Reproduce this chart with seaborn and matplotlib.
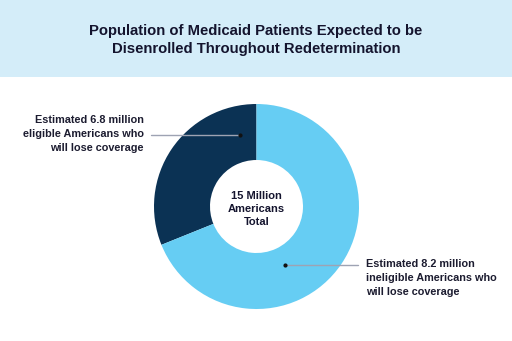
import matplotlib
matplotlib.use("Agg")
import matplotlib.pyplot as plt
import seaborn as sns
from matplotlib.patches import Rectangle

# Data
groups = ["Eligible Americans", "Ineligible Americans"]
millions = [6.8, 8.2]                 # labeled values (millions)
wedge_share = [31.1, 68.9]            # wedge sizes as drawn in the picture (%)
colors = ["#0b3254", "#66cdf3"]
title = "Population of Medicaid Patients Expected to be\nDisenrolled Throughout Redetermination"
center_label = "15 Million\nAmericans\nTotal"
left_label = f"Estimated {millions[0]} million\neligible Americans who\nwill lose coverage"
right_label = f"Estimated {millions[1]} million\nineligible Americans who\nwill lose coverage"

sns.set_theme(style="white")
plt.rcParams['font.family'] = ['Liberation Sans', 'DejaVu Sans']

W, H = 512, 341
fig = plt.figure(figsize=(W / 100, H / 100), dpi=100)
fig.patch.set_facecolor("white")
ax = fig.add_axes([0, 0, 1, 1])

cx, cy, R = 256.5, 206.5, 102.5
# y axis is inverted below, so data-clockwise from -90 is visually counter-clockwise from top
wedges, _ = ax.pie(wedge_share, colors=colors, startangle=-90, counterclock=False,
                   radius=R, center=(cx, cy), frame=True,
                   wedgeprops=dict(width=R - 46.5, edgecolor="none"))
ax.set_xlim(0, W)
ax.set_ylim(H, 0)
ax.set_aspect("equal")
ax.axis("off")

# header band
ax.add_patch(Rectangle((0, 0), W, 77, facecolor="#d4edf9", edgecolor="none", zorder=0))
ax.text(W / 2, 40, title, ha="center", va="center", fontsize=10.7, fontweight="bold",
        color="#14142e", linespacing=1.45)

ax.text(cx, 209, center_label, ha="center", va="center", fontsize=8, fontweight="bold",
        color="#14142e", linespacing=1.4)

# leader lines
txtc = "#1c1c30"
ax.plot([151, 240], [134.5, 134.5], color="#9ea3b3", lw=1, zorder=5)
ax.plot([240], [134.5], "o", color="#111", ms=2, zorder=6)
ax.text(144, 134, left_label, ha="right", va="center", fontsize=7.8, fontweight="bold",
        color=txtc, linespacing=1.45)

ax.plot([285, 358], [264.5, 264.5], color="#9ea3b3", lw=1, zorder=5)
ax.plot([285], [264.5], "o", color="#111", ms=2, zorder=6)
ax.text(366, 278, right_label, ha="left", va="center", fontsize=7.8, fontweight="bold",
        color=txtc, linespacing=1.45)

fig.savefig("out.png", dpi=100, facecolor="white")
